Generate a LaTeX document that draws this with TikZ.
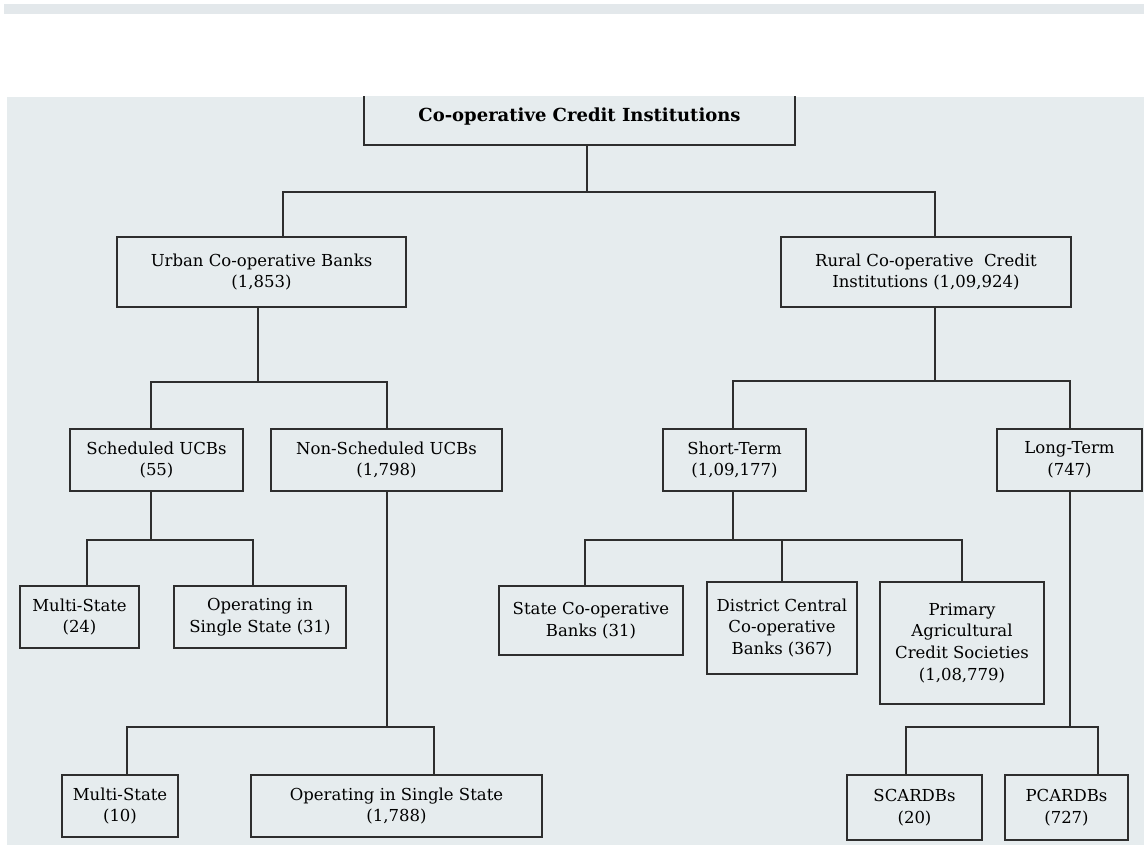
\documentclass[tikz,border=0pt]{standalone}
\usepackage{fontspec}
\setmainfont{DejaVu Serif}
\definecolor{panel}{HTML}{E6ECEE}
\definecolor{band}{HTML}{E3E8EB}
\definecolor{ink}{HTML}{2E2E2E}

\begin{document}
\begin{tikzpicture}[x=1pt, y=-1pt,
    box/.style={draw=ink, line width=1.6pt, fill=panel, align=center, inner sep=0pt,
                font=\fontsize{16.5}{21.7}\selectfont},
    link/.style={draw=ink, line width=1.6pt}]
    \useasboundingbox (0,0) rectangle (1144,845);
    \fill[white] (0,0) rectangle (1144,845);
    \fill[band] (4,4) rectangle (1144,14);
    \fill[panel] (7,97) rectangle (1144,845);

    % root and first level
    \node[box, minimum width=431, minimum height=56] (root) at (579.5,117)
        {\fontsize{18}{22}\selectfont\textbf{Co-operative Credit Institutions}};
    \fill[white] (0,14) rectangle (1144,96.5); % top edge hidden
    \node[box, minimum width=289, minimum height=70] (urban) at (261.5,272)
        {Urban Co-operative Banks\\(1,853)};
    \node[box, minimum width=290, minimum height=70] (rural) at (926,272)
        {Rural Co-operative\ \ Credit\\Institutions (1,09,924)};

    % second level
    \node[box, minimum width=173, minimum height=62] (sched) at (156.5,460)
        {Scheduled UCBs\\(55)};
    \node[box, minimum width=231, minimum height=62] (nonsched) at (386.5,460)
        {Non-Scheduled UCBs\\(1,798)};
    \node[box, minimum width=143, minimum height=62] (short) at (734.5,460)
        {Short-Term\\(1,09,177)};
    \node[box, minimum width=145, minimum height=62] (long) at (1069.5,460)
        {Long-Term\\(747)};

    % third level
    \node[box, minimum width=119, minimum height=62] (schedms) at (79.5,617)
        {Multi-State\\(24)};
    \node[box, minimum width=172, minimum height=62] (schedss) at (260,617)
        {Operating in\\Single State (31)};
    \node[box, minimum width=184, minimum height=69] (stcb) at (591,620.5)
        {State Co-operative\\Banks (31)};
    \node[box, minimum width=150, minimum height=92] (dccb) at (782,628)
        {District Central\\Co-operative\\Banks (367)};
    \node[box, minimum width=164, minimum height=122] (pacs) at (962,643)
        {Primary\\Agricultural\\Credit Societies\\(1,08,779)};

    % bottom level
    \node[box, minimum width=116, minimum height=62] (nonms) at (120,806)
        {Multi-State\\(10)};
    \node[box, minimum width=291, minimum height=62] (nonss) at (396.5,806)
        {Operating in Single State\\(1,788)};
    \node[box, minimum width=135, minimum height=65] (scardb) at (914.5,807.5)
        {SCARDBs\\(20)};
    \node[box, minimum width=123, minimum height=65] (pcardb) at (1066.5,807.5)
        {PCARDBs\\(727)};

    % buses
    \coordinate (rootbus) at (587,192);
    \coordinate (urbanbus) at (258,382);
    \coordinate (ruralbus) at (935,381);
    \coordinate (schedbus) at (151,540);
    \coordinate (nonbus) at (387,727);
    \coordinate (shortbus) at (733,540);
    \coordinate (longbus) at (1070,727);

    \draw[link] (root.south -| rootbus) -- (rootbus);
    \draw[link] (urban.north -| 283,0) |- (rootbus) -| (rural.north -| 935,0);

    \draw[link] (urban.south -| urbanbus) -- (urbanbus);
    \draw[link] (sched.north -| 151,0) |- (urbanbus) -| (nonsched.north -| 387,0);

    \draw[link] (rural.south -| ruralbus) -- (ruralbus);
    \draw[link] (short.north -| 733,0) |- (ruralbus) -| (long.north -| 1070,0);

    \draw[link] (sched.south -| schedbus) -- (schedbus);
    \draw[link] (schedms.north -| 87,0) |- (schedbus) -| (schedss.north -| 253,0);

    \draw[link] (nonsched.south -| nonbus) -- (nonbus);
    \draw[link] (nonms.north -| 127,0) |- (nonbus) -| (nonss.north -| 434,0);

    \draw[link] (short.south -| shortbus) -- (shortbus);
    \draw[link] (stcb.north -| 585,0) |- (shortbus) -| (pacs.north -| 962,0);
    \draw[link] (dccb.north) -- (dccb.north |- shortbus);

    \draw[link] (long.south -| longbus) -- (longbus);
    \draw[link] (scardb.north -| 906,0) |- (longbus) -| (pcardb.north -| 1098,0);
\end{tikzpicture}
\end{document}
